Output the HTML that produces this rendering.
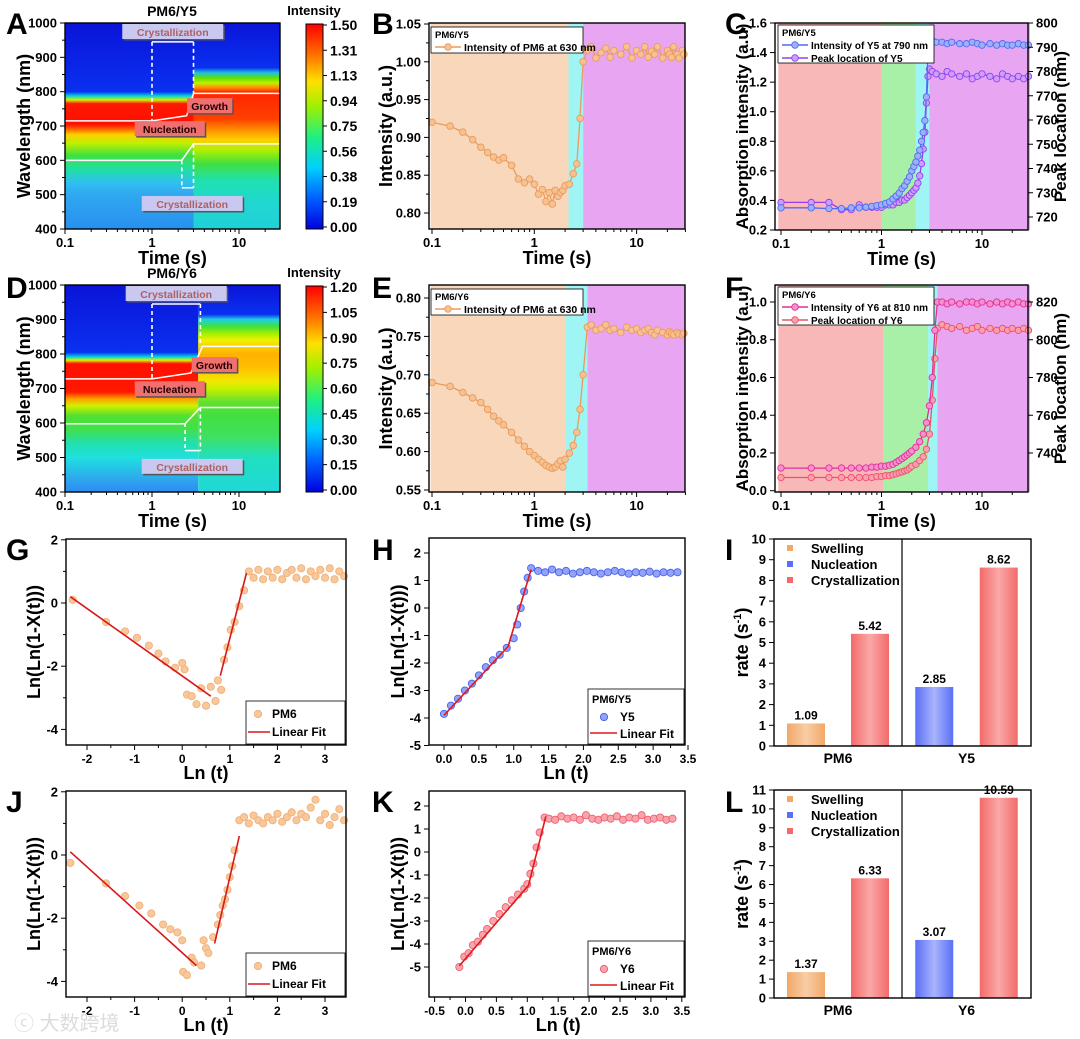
<!DOCTYPE html>
<html><head><meta charset="utf-8"><style>
html,body{margin:0;padding:0;background:#fff}
svg{display:block}
</style></head><body>
<svg id="fig" width="1080" height="1039" viewBox="0 0 1080 1039" xmlns="http://www.w3.org/2000/svg">
<defs>
<linearGradient id="jet" x1="0" y1="1" x2="0" y2="0">
<stop offset="0" stop-color="#0000e0"/><stop offset="0.15" stop-color="#0060ff"/><stop offset="0.3" stop-color="#00d0ff"/><stop offset="0.45" stop-color="#20f080"/><stop offset="0.6" stop-color="#a0f000"/><stop offset="0.72" stop-color="#ffe000"/><stop offset="0.85" stop-color="#ff7000"/><stop offset="1" stop-color="#ff0000"/>
</linearGradient>
<linearGradient id="gOr" x1="0" x2="1"><stop offset="0" stop-color="#f2a868"/><stop offset="0.5" stop-color="#f8cda5"/><stop offset="1" stop-color="#f2a868"/></linearGradient>
<linearGradient id="gBl" x1="0" x2="1"><stop offset="0" stop-color="#5b6ff5"/><stop offset="0.5" stop-color="#a8b4fb"/><stop offset="1" stop-color="#5b6ff5"/></linearGradient>
<linearGradient id="gRd" x1="0" x2="1"><stop offset="0" stop-color="#f46a6a"/><stop offset="0.5" stop-color="#faa8a8"/><stop offset="1" stop-color="#f46a6a"/></linearGradient>
</defs>
</svg>
<script>
// ---------- DATA ----------
const hmA_leftWl = [1000,800,788,776,765,705,690,675,650,615,575,535,500,400];
const hmA_leftCol = ['#0a14d8','#0a30f0','#00d0e0','#d0f000','#ff1800','#ff1000','#ff6a00','#ffd000','#c0f000','#40e040','#20e0a0','#30c0f0','#30a8f0','#2890f0'];
const hmA_rightWl = [1000,870,855,840,825,812,800,790,720,690,660,630,590,540,480,400];
const hmA_rightCol = ['#0a14d8','#0a30f0','#20c0e0','#60e000','#c0f000','#ff9000','#ff3000','#ff2800','#ff4000','#ff8c00','#ffd000','#b0f000','#40e040','#20e0b0','#20d8d0','#20d0d8'];
const hmD_leftWl = [1000,805,792,782,772,690,670,650,620,580,540,500,420,400];
const hmD_leftCol = ['#0a14d8','#0a30f0','#00d0e0','#e0f000','#ff1000','#ff1800','#ffa000','#d0f000','#50e030','#40e050','#20e0b0','#20e0e0','#3098f0','#2890f0'];
const hmD_rightWl = [1000,915,900,880,860,840,800,760,720,700,660,620,560,500,400];
const hmD_rightCol = ['#0a14d8','#0a30f0','#20d0e0','#40e040','#a0f000','#f0f000','#ffb000','#ffc000','#f0e800','#c8f000','#60e030','#40e040','#40e060','#20e0c0','#20d8d8'];
const cbA_labels = ['0.00','0.19','0.38','0.56','0.75','0.94','1.13','1.31','1.50'];
const cbD_labels = ['0.00','0.15','0.30','0.45','0.60','0.75','0.90','1.05','1.20'];

const bT = [0.1,0.15,0.2,0.25,0.3,0.35,0.4,0.45,0.5,0.6,0.7,0.8,0.9,1.0,1.1,1.2,1.3,1.4,1.5,1.6,1.7,1.8,1.9,2.0,2.2,2.4,2.6,2.8,3.0,3.3,3.6,4,4.5,5,5.5,6,7,8,9,10,11,12,13,14,15,16,18,20,21,22,23,25,26,28,29];
const bV = [0.92,0.915,0.907,0.897,0.887,0.88,0.874,0.87,0.873,0.863,0.845,0.84,0.845,0.838,0.825,0.831,0.815,0.827,0.812,0.83,0.822,0.827,0.83,0.836,0.838,0.852,0.865,0.925,1.0,1.015,1.02,1.005,1.012,1.018,1.006,1.015,1.01,1.02,1.005,1.015,1.01,1.02,1.006,1.014,1.01,1.02,1.005,1.015,1.01,1.006,1.02,1.01,1.005,1.015,1.01];
const eT = bT;
const eV = [0.69,0.685,0.677,0.67,0.664,0.655,0.646,0.64,0.635,0.625,0.615,0.607,0.6,0.595,0.59,0.586,0.582,0.58,0.578,0.58,0.584,0.588,0.58,0.59,0.598,0.608,0.625,0.655,0.7,0.762,0.765,0.758,0.76,0.765,0.758,0.76,0.755,0.762,0.758,0.76,0.755,0.758,0.76,0.755,0.752,0.758,0.755,0.752,0.756,0.754,0.752,0.755,0.753,0.752,0.754];
const cT = [0.1,0.2,0.3,0.4,0.5,0.6,0.7,0.8,0.9,1.0,1.1,1.2,1.3,1.4,1.5,1.6,1.7,1.8,1.9,2.0,2.1,2.2,2.3,2.4,2.5,2.6,2.7,2.8,2.9,3.0,3.2,3.5,4,4.5,5,6,7,8,9,10,12,14,16,18,20,23,26,29];
const cInt = [0.35,0.35,0.345,0.345,0.35,0.35,0.355,0.36,0.365,0.37,0.38,0.39,0.41,0.43,0.45,0.48,0.5,0.53,0.56,0.6,0.63,0.66,0.7,0.74,0.8,0.86,0.94,1.1,1.4,1.49,1.48,1.47,1.47,1.46,1.47,1.46,1.46,1.47,1.46,1.45,1.46,1.45,1.46,1.45,1.45,1.46,1.45,1.45];
const cPeak = [726,726,726,723,723,725,724,724,724,724,725,725,725,726,726,727,727,728,729,730,731,732,734,737,742,748,755,767,778,781,780,779,778,780,779,778,779,777,778,779,778,777,779,778,777,778,777,778];
const fT = [0.1,0.2,0.3,0.4,0.5,0.6,0.7,0.8,0.9,1.0,1.1,1.2,1.3,1.4,1.5,1.6,1.7,1.8,1.9,2.0,2.2,2.4,2.6,2.8,3.0,3.2,3.4,3.6,4,4.5,5,6,7,8,9,10,12,14,16,18,20,23,26,29];
const fInt = [0.12,0.12,0.12,0.12,0.12,0.12,0.12,0.125,0.125,0.13,0.13,0.135,0.14,0.15,0.16,0.17,0.18,0.19,0.2,0.21,0.23,0.26,0.3,0.36,0.45,0.6,0.85,1.0,1.0,0.99,1.0,0.99,1.0,1.0,0.99,1.0,0.99,1.0,0.99,1.0,0.99,1.0,0.99,0.99];
const fPeak = [727,727,727,727,727,727,727,727,727.5,727.5,728,728,728.5,729,729.5,730,730.5,731,732,733,734,736,738,742,750,768,790,806,808,807,806,807,805,806,807,805,806,805,806,805,806,805,806,805];

const gX = [-2.3,-1.6,-1.2,-0.95,-0.7,-0.5,-0.35,-0.15,0.0,0.05,0.1,0.2,0.3,0.4,0.5,0.6,0.7,0.75,0.82,0.88,0.95,1.02,1.1,1.2,1.3,1.4,1.5,1.6,1.7,1.8,1.9,2.0,2.1,2.2,2.3,2.4,2.5,2.6,2.7,2.8,2.9,3.0,3.1,3.2,3.3,3.4];
const gY = [0.1,-0.6,-0.9,-1.1,-1.35,-1.6,-1.85,-2.05,-1.9,-2.1,-2.9,-2.95,-3.2,-2.7,-3.25,-2.65,-3.1,-2.45,-2.75,-1.8,-1.4,-0.85,-0.6,-0.1,0.4,1.0,0.8,1.05,0.75,1.0,0.8,1.05,0.75,0.95,1.05,0.8,1.1,0.75,1.0,0.85,1.05,0.8,1.1,0.75,1.0,0.85];
const gFit1X = [-2.35,0.6]; const gFit1Y = [0.2,-2.95];
const gFit2X = [0.8,1.35]; const gFit2Y = [-2.3,0.95];

const hX = [0,0.1,0.2,0.3,0.4,0.5,0.6,0.7,0.8,0.9,1.0,1.05,1.1,1.15,1.2,1.25,1.35,1.45,1.55,1.65,1.75,1.85,1.95,2.05,2.15,2.25,2.35,2.45,2.55,2.65,2.75,2.85,2.95,3.05,3.15,3.25,3.35];
const hY = [-3.85,-3.55,-3.3,-3.0,-2.75,-2.45,-2.15,-1.9,-1.7,-1.45,-1.1,-0.6,0.0,0.6,1.1,1.45,1.35,1.3,1.4,1.3,1.35,1.25,1.3,1.35,1.3,1.25,1.3,1.35,1.3,1.25,1.3,1.28,1.32,1.25,1.3,1.28,1.3];
const hFitX = [0,0.92,1.25]; const hFitY = [-3.9,-1.4,1.4];

const jX = [-2.35,-1.6,-1.2,-0.9,-0.65,-0.4,-0.25,-0.1,0.0,0.02,0.1,0.2,0.25,0.4,0.45,0.5,0.55,0.65,0.75,0.8,0.85,0.9,0.95,1.0,1.05,1.1,1.2,1.3,1.4,1.5,1.6,1.7,1.8,1.9,2.0,2.1,2.2,2.3,2.4,2.5,2.6,2.7,2.8,2.9,3.0,3.1,3.2,3.3,3.4];
const jY = [-0.25,-0.9,-1.3,-1.6,-1.85,-2.2,-2.35,-2.45,-2.7,-3.7,-3.8,-3.25,-3.4,-3.5,-2.7,-2.95,-3.1,-2.6,-2.2,-1.9,-1.6,-1.4,-1.1,-0.7,-0.35,0.15,1.1,1.2,1.0,1.25,1.1,1.0,1.2,1.1,1.3,1.05,1.2,1.35,1.1,1.3,1.2,1.5,1.75,1.1,1.3,0.95,1.2,1.45,1.1];
const jFit1X = [-2.35,0.3]; const jFit1Y = [0.1,-3.5];
const jFit2X = [0.68,1.2]; const jFit2Y = [-2.8,0.6];

const kX = [-0.1,-0.02,0.05,0.12,0.2,0.28,0.35,0.45,0.55,0.65,0.75,0.85,0.95,1.0,1.05,1.1,1.15,1.2,1.28,1.35,1.45,1.55,1.65,1.75,1.85,1.95,2.05,2.15,2.25,2.35,2.45,2.55,2.65,2.75,2.85,2.95,3.05,3.15,3.25,3.35];
const kY = [-5.0,-4.55,-4.4,-4.05,-3.9,-3.6,-3.35,-3.0,-2.7,-2.4,-2.1,-1.85,-1.6,-1.4,-0.95,-0.5,0.2,0.85,1.5,1.45,1.4,1.55,1.45,1.5,1.4,1.6,1.45,1.4,1.5,1.45,1.55,1.4,1.5,1.45,1.6,1.4,1.45,1.5,1.4,1.45];
const kFitX = [-0.1,1.02,1.3]; const kFitY = [-4.95,-1.45,1.55];

const iCats = ['PM6','Y5'];
const iSwell = [1.09,null];
const iNucl = [null,2.85];
const iCryst = [5.42,8.62];
const lCats = ['PM6','Y6'];
const lSwell = [1.37,null];
const lNucl = [null,3.07];
const lCryst = [6.33,10.59];

// ---------- HELPERS ----------
const NS='http://www.w3.org/2000/svg';
const svg=document.getElementById('fig');
const FF='"Liberation Sans", Arial, sans-serif';
function mk(tag,a,p,name){
  const e=document.createElementNS(NS,tag);
  for(const k in a)e.setAttribute(k,a[k]);
  
  
  (p||svg).appendChild(e);return e;
}
function tx(p,x,y,s,size,name,extra){
  const a={x:x,y:y,'font-family':FF,'font-weight':'bold','font-size':size,fill:'#000'};
  Object.assign(a,extra||{});
  const e=mk('text',a,p,name);e.textContent=s;return e;
}
function grp(name){return mk('g',{},svg,name);}
const L10=Math.log10;
function logS(x0,dec){return t=>x0+dec*(L10(t)+1);}
function linS(v0,p0,v1,p1){return v=>p0+(v-v0)*(p1-p0)/(v1-v0);}
function frame(g,L,T,R,B){mk('rect',{x:L,y:T,width:R-L,height:B-T,fill:'none',stroke:'#000','stroke-width':1.4},g,'plot-frame');}
function logXAxis(g,sx,L,R,B,tmax){
  const labs=[0.1,1,10];
  for(let d=0.1;d<=10;d*=10){for(let m=1;m<10;m++){const t=d*m;if(t>tmax)break;const x=sx(t);if(x<L-0.5||x>R+0.5)continue;
    mk('line',{x1:x,y1:B,x2:x,y2:B+(m===1?5:3),stroke:'#000','stroke-width':1},g,'x-tick');}}
  labs.forEach(t=>tx(g,sx(t),B+18,String(t),13,'x-tick-label',{'text-anchor':'middle'}));
  tx(g,(L+R)/2,B+35,'Time (s)',18,'x-axis-title',{'text-anchor':'middle'});
}
function yAxis(g,sy,vals,labs,X,side,minor){
  const dir=side==='r'?1:-1;
  vals.forEach((v,i)=>{const y=sy(v);
    mk('line',{x1:X,y1:y,x2:X+dir*5,y2:y,stroke:'#000','stroke-width':1},g,'y-tick');
    tx(g,X+dir*8,y+4.5,labs[i],13,'y-tick-label',{'text-anchor':side==='r'?'start':'end'});});
  (minor||[]).forEach(v=>{const y=sy(v);mk('line',{x1:X,y1:y,x2:X+dir*3,y2:y,stroke:'#000','stroke-width':1},g,'y-minor-tick');});
}
function linXAxis(g,sx,vals,labs,B,title,minor){
  vals.forEach((v,i)=>{const x=sx(v);
    mk('line',{x1:x,y1:B,x2:x,y2:B+5,stroke:'#000','stroke-width':1},g,'x-tick');
    tx(g,x,B+18,labs[i],12,'x-tick-label',{'text-anchor':'middle'});});
  (minor||[]).forEach(v=>{const x=sx(v);mk('line',{x1:x,y1:B,x2:x,y2:B+3,stroke:'#000','stroke-width':1},g,'x-minor-tick');});
  const mid=(sx(vals[0])+sx(vals[vals.length-1]))/2;
  tx(g,mid,B+34,title,18,'x-axis-title',{'text-anchor':'middle'});
}
function yTitle(g,x,y,s,size){tx(g,x,y,s,size||18,'y-axis-title',{'text-anchor':'middle',transform:`rotate(-90 ${x} ${y})`});}
function series(g,xs,ys,sx,sy,stroke,fill,line,r,name){
  const n=Math.min(xs.length,ys.length);const pts=[];
  for(let i=0;i<n;i++)pts.push(sx(xs[i]).toFixed(1)+','+sy(ys[i]).toFixed(1));
  if(line)mk('polyline',{points:pts.join(' '),fill:'none',stroke:stroke,'stroke-width':1.3},g,name+'-line');
  for(let i=0;i<n;i++){
    mk('circle',{cx:sx(xs[i]),cy:sy(ys[i]),r:r||3.3,fill:fill,stroke:stroke,'stroke-width':0.9},g,name+'-point');
  }
}
function fitLine(g,xs,ys,sx,sy,color){
  const pts=xs.map((x,i)=>sx(x).toFixed(1)+','+sy(ys[i]).toFixed(1)).join(' ');
  mk('polyline',{points:pts,fill:'none',stroke:color||'#d81818','stroke-width':1.6},g,'linear-fit-line');
}
function letter(s,x,y){tx(svg,x,y,s,30,'panel-label-'+s.toLowerCase());}
let gid=0;
function heatCol(g,x0,x1,T,B,wls,cols,name){
  const id='hg'+(gid++);
  const d=svg.querySelector('defs');
  const lg=mk('linearGradient',{id:id,x1:0,y1:0,x2:0,y2:1},d,'heat-gradient');
  wls.forEach((w,i)=>mk('stop',{offset:((1000-w)/600).toFixed(4),'stop-color':cols[i]},lg,'heat-stop'));
  mk('rect',{x:x0,y:T,width:x1-x0,height:B-T,fill:`url(#${id})`},g,name);
}
function lbox(g,x,y,s,bg,col,name){
  const w=s.length*6.2+8;
  mk('rect',{x:x-w/2+1.5,y:y-9+1.5,width:w,height:15,fill:'#555'},g,name+'-shadow');
  mk('rect',{x:x-w/2,y:y-9,width:w,height:15,fill:bg},g,name+'-box');
  tx(g,x,y+3,s,10.5,name,{'text-anchor':'middle',fill:col});
}

// ---------- HEATMAPS ----------
function heatPanel(letterS,title,T,B,tSwitch,lw,lc,rw,rc,cbLabels,ann){
  const g=grp('heatmap-panel-'+letterS.toLowerCase());
  const L=65,R=280; const sx=logS(65,87); const sy=linS(400,B,1000,T);
  heatCol(g,L,sx(tSwitch),T,B,lw,lc,'heatmap-region-before');
  heatCol(g,sx(tSwitch),R,T,B,rw,rc,'heatmap-region-after');
  const wh='#ffffff';
  mk('polyline',{points:ann.top.map(p=>sx(p[0])+','+sy(p[1])).join(' '),fill:'none',stroke:wh,'stroke-width':1.5},g,'peak-trace-line');
  mk('polyline',{points:ann.bot.map(p=>sx(p[0])+','+sy(p[1])).join(' '),fill:'none',stroke:wh,'stroke-width':1.5},g,'peak-trace-line');
  const dash={stroke:wh,'stroke-width':1.6,'stroke-dasharray':'4,3',fill:'none'};
  mk('line',Object.assign({x1:sx(ann.t1),y1:sy(945),x2:sx(ann.t1),y2:sy(ann.top[1][1])},dash),g,'crystallization-dashed-marker');
  mk('line',Object.assign({x1:sx(ann.t2),y1:sy(945),x2:sx(ann.t2),y2:sy(ann.top[3][1])},dash),g,'crystallization-dashed-marker');
  mk('line',{x1:sx(ann.t1),y1:sy(945),x2:sx(ann.t2),y2:sy(945),stroke:wh,'stroke-width':1.5},g,'crystallization-arrow');
  mk('line',Object.assign({x1:sx(ann.b1),y1:sy(600),x2:sx(ann.b1),y2:sy(520)},dash),g,'crystallization-dashed-marker');
  mk('line',Object.assign({x1:sx(ann.t2),y1:sy(ann.bot[2][1]),x2:sx(ann.t2),y2:sy(520)},dash),g,'crystallization-dashed-marker');
  mk('line',{x1:sx(ann.b1),y1:sy(520),x2:sx(ann.t2),y2:sy(520),stroke:wh,'stroke-width':1.5},g,'crystallization-arrow');
  lbox(g,(sx(ann.t1)+sx(ann.t2))/2,T+10,'Crystallization','#c8c8f0','#b06060','crystallization-label');
  lbox(g,sx(2.9),sy(470),'Crystallization','#c8c8f0','#b06060','crystallization-label');
  lbox(g,sx(ann.growT),sy(ann.growW),'Growth','#f07070','#200000','growth-label');
  lbox(g,sx(1.6),sy(ann.nucW),'Nucleation','#f07070','#200000','nucleation-label');
  frame(g,L,T,R,B);
  logXAxis(g,sx,L,R,B,30);
  yAxis(g,sy,[400,500,600,700,800,900,1000],['400','500','600','700','800','900','1000'],L,'l',[450,550,650,750,850,950]);
  yTitle(g,30,(T+B)/2,'Wavelength (nm)');
  tx(g,172,T-7,title,14,'chart-title',{'text-anchor':'middle'});
  const cb=mk('g',{},g,'colorbar');
  mk('rect',{x:306,y:T+1,width:17,height:B-T-1,fill:'url(#jet)',stroke:'#000','stroke-width':1},cb,'colorbar-gradient');
  cbLabels.forEach((s,i)=>{const y=B-i*(B-T-4)/8-2;
    mk('line',{x1:323,y1:y,x2:327,y2:y,stroke:'#000'},cb,'colorbar-tick');
    tx(cb,330,y+5,s,14,'colorbar-label');});
  tx(cb,314,T-8,'Intensity',13,'colorbar-title',{'text-anchor':'middle'});
}
heatPanel('A','PM6/Y5',23,229,3.0,hmA_leftWl,hmA_leftCol,hmA_rightWl,hmA_rightCol,cbA_labels,
  {top:[[0.1,715],[1,715],[2.5,730],[3,795],[30,795]],bot:[[0.1,600],[2.2,600],[3,648],[30,648]],t1:1,t2:3,b1:2.2,growT:4.6,growW:755,nucW:688});
heatPanel('D','PM6/Y6',285,492,3.4,hmD_leftWl,hmD_leftCol,hmD_rightWl,hmD_rightCol,cbD_labels,
  {top:[[0.1,728],[1,728],[2.8,745],[3.8,822],[30,822]],bot:[[0.1,598],[2.4,598],[3.6,645],[30,645]],t1:1,t2:3.6,b1:2.4,growT:5.2,growW:765,nucW:695});
letter('A',6,34);letter('D',6,298);

// ---------- TIME SERIES B/E ----------
function bgBands(g,sx,T,B,bands){bands.forEach(b=>mk('rect',{x:sx(b[0]),y:T,width:sx(b[1])-sx(b[0]),height:B-T,fill:b[2]},g,'phase-background'));}
function legendBox(g,x,y,w,h,title,items,fs){
  const lg=mk('g',{},g,'legend');
  mk('rect',{x:x,y:y,width:w,height:h,fill:'#fff',stroke:'#000','stroke-width':0.8},lg,'legend-box');
  if(title)tx(lg,x+4,y+11,title,9.5,'legend-title');
  items.forEach((it,i)=>{const yy=y+(title?24:12)+i*13;
    if(it.line)mk('line',{x1:x+4,y1:yy-4,x2:x+30,y2:yy-4,stroke:it.line,'stroke-width':1.5},lg,'legend-line');
    if(it.dot)mk('circle',{cx:x+17,cy:yy-4,r:3.3,fill:it.dot,stroke:it.st,'stroke-width':0.9},lg,'legend-marker');
    tx(lg,x+33,yy,it.label,fs||10.5,'legend-entry');});
}
const OR='#eb9a5c', ORF='#f7c291';
function tsPanel(id,T,B,ys,vals,labs,minor,xs,vs,bands,title,item){
  const g=grp('line-chart-'+id);
  const L=429,R=685; const sx=logS(432,102.3); const sy=linS(ys[0],ys[1],ys[2],ys[3]);
  bgBands(g,sx,T,B,bands.map(b=>[b[0],b[1],b[2]]));
  series(g,xs,vs,sx,sy,OR,ORF,true,3.3,'intensity-series');
  legendBox(g,L+2,T+4,152,26,title,[{line:OR,dot:ORF,st:OR,label:item}],10.5);
  frame(g,L,T,R,B);
  logXAxis(g,sx,L,R,B,30);
  yAxis(g,sy,vals,labs,L,'l',minor);
  yTitle(g,392,(T+B)/2,'Intensity (a.u.)');
}
tsPanel('b',23,229,[0.80,213,1.05,24],[0.80,0.85,0.90,0.95,1.00,1.05],['0.80','0.85','0.90','0.95','1.00','1.05'],[0.825,0.875,0.925,0.975,1.025],bT,bV,
  [[0.097,2.16,'#f8d7bb'],[2.16,3.0,'#9ff4f4'],[3.0,30,'#e8a6f2']],'PM6/Y5','Intensity of PM6 at 630 nm');
tsPanel('e',285,492,[0.55,490,0.80,298],[0.55,0.60,0.65,0.70,0.75,0.80],['0.55','0.60','0.65','0.70','0.75','0.80'],[0.575,0.625,0.675,0.725,0.775],eT,eV,
  [[0.097,2.0,'#f8d7bb'],[2.0,3.3,'#9ff4f4'],[3.3,30,'#e8a6f2']],'PM6/Y6','Intensity of PM6 at 630 nm');
letter('B',372,34);letter('E',372,298);

// ---------- DUAL AXIS C/F ----------
function dualPanel(id,T,B,sy1,sy2,lv,ll,rv,rl,xs,v1,v2,bands,title,items,c1,f1,c2,f2){
  const g=grp('dual-axis-chart-'+id);
  const L=775,R=1028; const sx=logS(781,100.5);
  bgBands(g,sx,T,B,bands);
  series(g,xs,v2,sx,sy2,c2,f2,true,3.2,'peak-location-series');
  series(g,xs,v1,sx,sy1,c1,f1,true,3.2,'absorption-series');
  legendBox(g,L+3,T+2,156,38,title,items,10);
  frame(g,L,T,R,B);
  logXAxis(g,sx,L,R,B,30);
  yAxis(g,sy1,lv,ll,L,'l');
  yAxis(g,sy2,rv,rl,R,'r');
  yTitle(g,748,(T+B)/2,'Absorption intensity (a.u)',17);
  yTitle(g,1066,(T+B)/2,'Peak location (nm)',17);
}
const BLc='#4f6cf0',BLf='#9fb0fb',PUc='#9a3cf0',PUf='#c9a0fb';
dualPanel('c',23,230,linS(0.2,230,1.6,23),linS(720,217,800,23),
  [0.2,0.4,0.6,0.8,1.0,1.2,1.4,1.6],['0.2','0.4','0.6','0.8','1.0','1.2','1.4','1.6'],
  [720,730,740,750,760,770,780,790,800],['720','730','740','750','760','770','780','790','800'],
  cT,cInt,cPeak,[[0.094,1.0,'#f8b8b8'],[1.0,2.2,'#a8f0a8'],[2.2,3.0,'#9ff4f4'],[3.0,30,'#e8a6f2']],'PM6/Y5',
  [{line:BLc,dot:BLf,st:BLc,label:'Intensity of Y5 at 790 nm'},{line:PUc,dot:PUf,st:PUc,label:'Peak location of Y5'}],BLc,BLf,PUc,PUf);
const MGc='#e0309a',MGf='#f590cc',RDc='#f0506a',RDf='#f8a0ae';
dualPanel('f',285,492,linS(0,490.7,1.0,302),linS(740,453,820,302),
  [0.0,0.2,0.4,0.6,0.8,1.0],['0.0','0.2','0.4','0.6','0.8','1.0'],
  [740,760,780,800,820],['740','760','780','800','820'],
  fT,fInt,fPeak,[[0.094,1.05,'#f8b8b8'],[1.05,2.9,'#a8f0a8'],[2.9,3.6,'#9ff4f4'],[3.6,30,'#e8a6f2']],'PM6/Y6',
  [{line:MGc,dot:MGf,st:MGc,label:'Intensity of Y6 at 810 nm'},{line:RDc,dot:RDf,st:RDc,label:'Peak location of Y6'}],MGc,MGf,RDc,RDf);
letter('C',725,34);letter('F',725,298);

// ---------- AVRAMI G/J ----------
function avramiPM6(id,T,B,sy,xs,ys,f1x,f1y,f2x,f2y){
  const g=grp('scatter-chart-'+id);
  const L=66,R=346; const sx=linS(-2,87,3,325);
  series(g,xs,ys,sx,sy,'#f0b07a','#f8c89a',false,3.6,'pm6-point');
  fitLine(g,f1x,f1y,sx,sy);fitLine(g,f2x,f2y,sx,sy);
  const lg=mk('g',{},g,'legend');
  mk('rect',{x:246,y:B-44,width:99,height:43,fill:'#fff',stroke:'#000','stroke-width':0.8},lg,'legend-box');
  mk('circle',{cx:258,cy:B-31,r:3.6,fill:'#f8c89a',stroke:'#f0b07a'},lg,'legend-marker');
  tx(lg,272,B-27,'PM6',12,'legend-entry');
  mk('line',{x1:248,y1:B-13,x2:270,y2:B-13,stroke:'#d81818','stroke-width':1.6},lg,'legend-line');
  tx(lg,272,B-9,'Linear Fit',12,'legend-entry');
  frame(g,L,T,R,B);
  linXAxis(g,sx,[-2,-1,0,1,2,3],['-2','-1','0','1','2','3'],B,'Ln (t)',[-1.5,-0.5,0.5,1.5,2.5]);
  yAxis(g,sy,[2,0,-2,-4],['2','0','-2','-4'],L,'l',[1,-1,-3]);
  yTitle(g,40,(T+B)/2,'Ln(Ln(1-X(t)))');
}
avramiPM6('g',539,745,linS(0,603,2,539.8),gX,gY,gFit1X,gFit1Y,gFit2X,gFit2Y);
avramiPM6('j',791,997,linS(0,855,2,791.8),jX,jY,jFit1X,jFit1Y,jFit2X,jFit2Y);
letter('G',6,560);letter('J',6,812);

// ---------- AVRAMI H/K ----------
function avramiAcc(id,T,B,sx,sy,xv,xl,xm,yv,yl,xs,ys,fx,fy,c,f,title,name){
  const g=grp('scatter-chart-'+id);
  const L=429,R=685;
  series(g,xs,ys,sx,sy,c,f,false,3.6,name.toLowerCase()+'-point');
  fitLine(g,fx,fy,sx,sy,'#e01818');
  const lg=mk('g',{},g,'legend');
  mk('rect',{x:588,y:B-56,width:96,height:55,fill:'#fff',stroke:'#000','stroke-width':0.8},lg,'legend-box');
  tx(lg,592,B-42,title,11,'legend-title');
  mk('circle',{cx:604,cy:B-28,r:3.6,fill:f,stroke:c},lg,'legend-marker');
  tx(lg,620,B-24,name,12,'legend-entry');
  mk('line',{x1:590,y1:B-12,x2:617,y2:B-12,stroke:'#e01818','stroke-width':1.6},lg,'legend-line');
  tx(lg,620,B-7,'Linear Fit',12,'legend-entry');
  frame(g,L,T,R,B);
  linXAxis(g,sx,xv,xl,B,'Ln (t)',xm);
  yAxis(g,sy,yv,yl,L,'l');
  yTitle(g,404,(T+B)/2,'Ln(Ln(1-X(t)))');
}
avramiAcc('h',538,745,linS(0,444,3.5,688),linS(0,608,2,553),
  [0,0.5,1,1.5,2,2.5,3,3.5],['0.0','0.5','1.0','1.5','2.0','2.5','3.0','3.5'],[0.25,0.75,1.25,1.75,2.25,2.75,3.25],
  [2,1,0,-1,-2,-3,-4,-5],['2','1','0','-1','-2','-3','-4','-5'],hX,hY,hFitX,hFitY,'#4a62ec','#93a3f8','PM6/Y5','Y5');
avramiAcc('k',791,997,linS(0,465.5,3.5,681.8),linS(0,852,2,806),
  [-0.5,0,0.5,1,1.5,2,2.5,3,3.5],['-0.5','0.0','0.5','1.0','1.5','2.0','2.5','3.0','3.5'],[-0.25,0.25,0.75,1.25,1.75,2.25,2.75,3.25],
  [2,1,0,-1,-2,-3,-4,-5],['2','1','0','-1','-2','-3','-4','-5'],kX,kY,kFitX,kFitY,'#f06070','#f8a4ac','PM6/Y6','Y6');
letter('H',372,560);letter('K',372,812);

// ---------- BARS I/L ----------
function barPanel(id,T,B,ymax,cats,sw,nu,cr){
  const g=grp('bar-chart-'+id);
  const L=774,R=1031,D=902; const sy=linS(0,B,ymax,T);
  const groups=[[L,D],[D,R]];
  const series3=[[sw,'url(#gOr)','swelling'],[nu,'url(#gBl)','nucleation'],[cr,'url(#gRd)','crystallization']];
  cats.forEach((c,ci)=>{
    const [gl,gr]=groups[ci];const w=gr-gl;let slot=0;
    series3.forEach(s=>{const v=s[0][ci];if(v==null)return;
      const cx=gl+w*(slot===0?0.25:0.75);slot++;
      mk('rect',{x:cx-19,y:sy(v),width:38,height:B-sy(v),fill:s[1]},g,'bar-'+s[2]+'-'+c.toLowerCase());
      tx(g,cx,sy(v)-4,v.toFixed(2),12,'bar-value-label',{'text-anchor':'middle'});
    });
    tx(g,(gl+gr)/2,B+17,c,14,'category-label',{'text-anchor':'middle'});
  });
  mk('line',{x1:D,y1:T,x2:D,y2:B,stroke:'#000','stroke-width':1.2},g,'group-divider');
  frame(g,L,T,R,B);
  const vals=[],labs=[];for(let v=0;v<=ymax;v++){vals.push(v);labs.push(String(v));}
  yAxis(g,sy,vals,labs,L,'l');
  const lg=mk('g',{},g,'legend');
  [['Swelling','#f2a868'],['Nucleation','#5b6ff5'],['Crystallization','#f46a6a']].forEach((e,i)=>{
    mk('rect',{x:787,y:T+6+i*16,width:6,height:6,fill:e[1]},lg,'legend-swatch');
    tx(lg,811,T+14+i*16,e[0],13,'legend-entry',{'font-weight':'bold'});
  });
  const t=tx(g,0,0,'',18,'y-axis-title',{'text-anchor':'middle',transform:`rotate(-90 748 ${(T+B)/2})`});
  t.setAttribute('x',748);t.setAttribute('y',(T+B)/2);
  t.textContent='rate (s';
  const sup=mk('tspan',{'font-size':11,dy:-7},t,'superscript');sup.textContent='-1';
  const cl=mk('tspan',{dy:7},t,'paren');cl.textContent=')';
}
barPanel('i',539,746,10,iCats,iSwell,iNucl,iCryst);
barPanel('l',790,998,11,lCats,lSwell,lNucl,lCryst);
letter('I',725,560);letter('L',725,812);

tx(svg,14,1030,'ⓒ 大数跨境',20,'watermark',{'font-family':'"Liberation Sans","Noto Sans CJK SC",sans-serif','fill':'#dcdcdc','font-weight':'normal'});
</script>
</body></html>
